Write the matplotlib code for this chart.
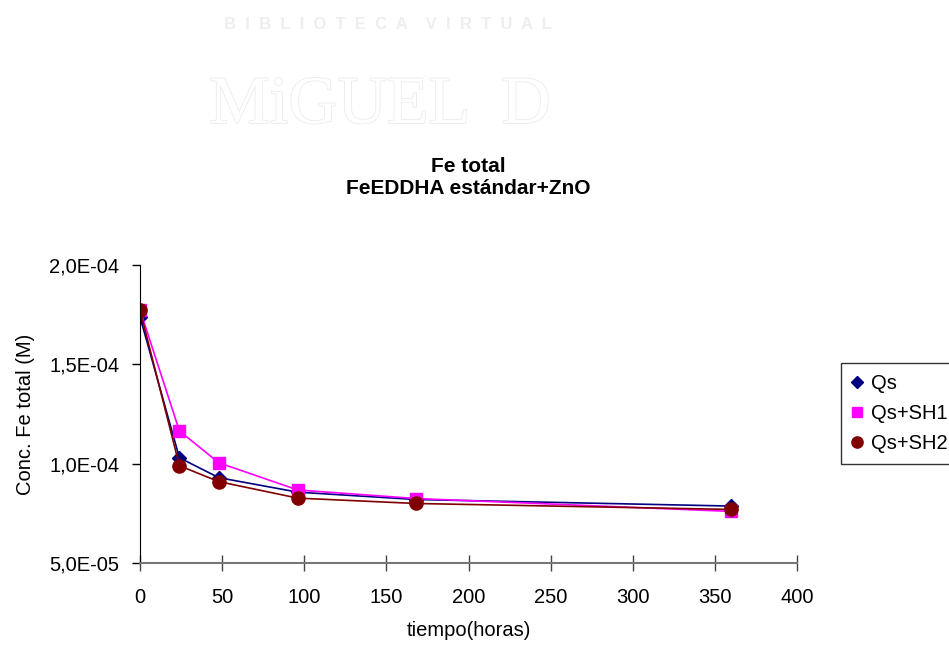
import matplotlib
matplotlib.use("Agg")
import matplotlib.pyplot as plt
import matplotlib.patheffects as pe
from matplotlib.ticker import FuncFormatter

plt.rcParams['font.family'] = ['Liberation Sans', 'DejaVu Sans']

# datos
tiempo = [0, 24, 48, 96, 168, 360]
qs = [1.74e-4, 1.03e-4, 0.93e-4, 0.857e-4, 0.82e-4, 0.787e-4]
qs_sh1 = [1.775e-4, 1.165e-4, 1.005e-4, 0.868e-4, 0.825e-4, 0.76e-4]
qs_sh2 = [1.775e-4, 0.99e-4, 0.91e-4, 0.827e-4, 0.80e-4, 0.77e-4]
series_names = ["Qs", "Qs+SH1", "Qs+SH2"]

fig = plt.figure(figsize=(9.49, 6.45), dpi=100)

# marca de agua
fig.text(0.409, 0.962, "B  I  B  L  I  O  T  E  C  A    V  I  R  T  U  A  L",
         ha="center", va="center", fontsize=12, color="#eeeeee", fontweight="bold")
fig.text(0.40, 0.835, "MiGUEL  D", ha="center", va="center", fontsize=49,
         color="white", family="Liberation Serif",
         path_effects=[pe.withStroke(linewidth=1.2, foreground="#ebebeb")])

ax = fig.add_axes([0.1475, 0.127, 0.6925, 0.462])
ax.plot(tiempo, qs, color="#000080", marker="D", markersize=7, linewidth=1.2, label=series_names[0])
ax.plot(tiempo, qs_sh1, color="#ff00ff", marker="s", markersize=9, linewidth=1.2, label=series_names[1])
ax.plot(tiempo, qs_sh2, color="#800000", marker="o", markersize=9.5, linewidth=1.2, label=series_names[2])

ax.set_xlim(0, 400)
ax.set_ylim(5e-5, 2e-4)
ax.set_xticks(range(0, 401, 50))
ax.set_yticks([5e-5, 1e-4, 1.5e-4, 2e-4])
ax.yaxis.set_major_formatter(FuncFormatter(lambda v, p: ("%.1E" % v).replace(".", ",")))
ax.tick_params(axis="both", labelsize=14.5, width=1)
ax.tick_params(axis="x", direction="inout", length=12, color="#444444", pad=12)
ax.tick_params(axis="y", direction="out", length=6, pad=9)
for s in ["top", "right"]:
    ax.spines[s].set_visible(False)
ax.spines["bottom"].set_color("#777777")
ax.spines["bottom"].set_linewidth(1.5)
ax.spines["left"].set_color("black")

ax.set_xlabel("tiempo(horas)", fontsize=14.5, labelpad=10)
ax.set_ylabel("Conc. Fe total (M)", fontsize=14.5, labelpad=10)

fig.text(0.493, 0.725, "Fe total\nFeEDDHA estándar+ZnO", ha="center", va="center",
         fontsize=15, fontweight="bold", linespacing=1.15)

leg = ax.legend(loc="upper left", bbox_to_anchor=(0.886, 0.437), bbox_transform=fig.transFigure,
                borderaxespad=0, frameon=True, fancybox=False, fontsize=14.5, handlelength=0.5,
                handletextpad=0.45, borderpad=0.55, labelspacing=0.55, markerscale=0.85)
leg.get_frame().set_edgecolor("black")
leg.get_frame().set_linewidth(1)
for h in leg.legend_handles:
    h.set_linestyle("")

fig.savefig("out.png", dpi=100)
